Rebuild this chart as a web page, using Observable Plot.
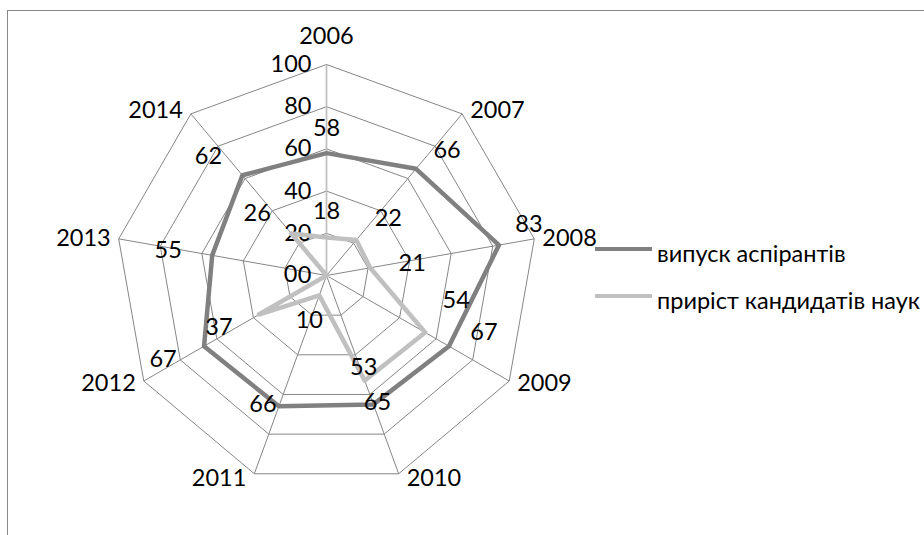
<!DOCTYPE html>
<html>
<head>
<meta charset="utf-8">
<script src="https://cdn.jsdelivr.net/npm/d3@7"></script>
<script src="https://cdn.jsdelivr.net/npm/@observablehq/plot@0.6"></script>
<style>
  html, body { margin: 0; padding: 0; background: #fff; }
  #wrap { position: relative; width: 924px; height: 535px; overflow: hidden; font-family: Lato, "Open Sans", sans-serif; }
  #frame { position: absolute; left: 7px; top: 10px; width: 1000px; height: 1000px; border-left: 1px solid #888; border-top: 1px solid #888; box-sizing: border-box; }
  #chart { position: absolute; left: 0; top: 0; }
  .leg { position: absolute; white-space: nowrap; font-size: 23.5px; color: #000; }
  .leg .sw { position: absolute; left: 0; width: 57px; height: 4px; }
  .leg span.t { position: absolute; left: 62px; line-height: 28px; }
</style>
</head>
<body>
<div id="wrap">
  <div id="frame"></div>
  <div id="chart"></div>
  <div id="legend"></div>
</div>
<script>
// ---- data ----
const categories = ["2006", "2007", "2008", "2009", "2010", "2011", "2012", "2013", "2014"];
const graduates = [58, 66, 83, 67, 65, 66, 67, 55, 62];        // випуск аспірантів
const candidates = [18, 22, 21, 54, 53, 10, 37, 0, 26];        // приріст кандидатів наук
const tickValues = [0, 20, 40, 60, 80, 100];
const seriesNames = ["випуск аспірантів", "приріст кандидатів наук"];
const seriesColors = ["#808080", "#c0c0c0"];

// ---- geometry helpers ----
const FS = 23.5;
const k = 2.11;             // pixels per unit
const cx = 326, cy = 275;   // centre in pixels
const n = categories.length;
const ang = i => (i % n) * 2 * Math.PI / n;
const X = (i, v) => Math.sin(ang(i)) * v;
const Y = (i, v) => -Math.cos(ang(i)) * v;
const maxV = d3.max(tickValues);

// rings
const rings = [];
tickValues.filter(t => t > 0).forEach(t => {
  for (let i = 0; i <= n; i++) rings.push({ring: t, i, v: t});
});
const spokes = categories.map((c, i) => ({i, c}));

// series rows
const seriesData = [graduates, candidates];
const lines = [];
seriesData.forEach((vals, s) => {
  for (let i = 0; i <= n; i++) lines.push({s, i, v: vals[i % n]});
});

// label offsets (pixels) for data labels, per series per category
const labelOffsets = [
  [[0,-25],[31,-18],[30,-21],[35,-14],[4,-2],[-16,-2],[-41,13],[-44,-5],[-34,-19]],
  [[0,-26],[32,-21],[42,-4],[31,-32],[-1,-13],[-10,25],[-40,13],[-36,-1],[-34,-20]]
];
const dataLabels = [];
seriesData.forEach((vals, s) => vals.forEach((v, i) => dataLabels.push({s, i, v, o: labelOffsets[s][i]})));

const catRows = categories.map((c, i) => ({c, i, sn: Math.sin(ang(i))}));

const chart = Plot.plot({
  width: 924,
  height: 535,
  margin: 0,
  x: {domain: [-cx / k, (924 - cx) / k], range: [0, 924], axis: null},
  y: {domain: [-cy / k, (535 - cy) / k], range: [0, 535], axis: null},
  style: {fontFamily: "Lato, 'Open Sans', sans-serif", fontSize: FS + "px", background: "transparent"},
  marks: [
    // ring grid
    Plot.line(rings, {x: d => X(d.i, d.v), y: d => Y(d.i, d.v), z: "ring", stroke: "#868686", strokeWidth: 1}),
    // spokes
    Plot.link(spokes.filter(d => d.i !== 0), {x1: 0, y1: 0, x2: d => X(d.i, maxV), y2: d => Y(d.i, maxV), stroke: "#868686", strokeWidth: 1}),
    Plot.link(spokes.filter(d => d.i === 0), {x1: 0, y1: 0, x2: d => X(d.i, maxV), y2: d => Y(d.i, maxV), stroke: "#bfbfbf", strokeWidth: 1.75}),
    // value axis labels
    Plot.text(tickValues, {x: 0, y: d => -d, text: d => String(d), textAnchor: "end", dx: -15, fill: "#000", fontSize: FS}),
    // series
    Plot.line(lines.filter(d => d.s === 0), {x: d => X(d.i, d.v), y: d => Y(d.i, d.v), stroke: seriesColors[0], strokeWidth: 4.5, strokeLinejoin: "round"}),
    Plot.line(lines.filter(d => d.s === 1), {x: d => X(d.i, d.v), y: d => Y(d.i, d.v), stroke: seriesColors[1], strokeWidth: 4.5, strokeLinejoin: "round"}),
    // data labels
    Plot.text(dataLabels, {x: d => X(d.i, d.v) + d.o[0] / k, y: d => Y(d.i, d.v) + d.o[1] / k, text: d => String(d.v), fill: "#000", fontSize: FS}),
    // category labels
    Plot.text(catRows.filter(d => d.sn > 0.1), {x: d => X(d.i, maxV), y: d => Y(d.i, maxV + 2.4), text: "c", textAnchor: "start", dx: 8, fill: "#000", fontSize: FS}),
    Plot.text(catRows.filter(d => d.sn < -0.1), {x: d => X(d.i, maxV), y: d => Y(d.i, maxV + 2.4), text: "c", textAnchor: "end", dx: -8, fill: "#000", fontSize: FS}),
    Plot.text(catRows.filter(d => Math.abs(d.sn) <= 0.1), {x: d => X(d.i, maxV), y: d => Y(d.i, maxV), text: "c", textAnchor: "middle", dy: -28, fill: "#000", fontSize: FS})
  ]
});
document.getElementById("chart").appendChild(chart);

// legend
const legend = document.getElementById("legend");
const legendTop = [249, 296];
seriesNames.forEach((name, s) => {
  const item = document.createElement("div");
  item.className = "leg";
  item.style.left = "595px";
  item.style.top = (legendTop[s] - 2) + "px";
  const sw = document.createElement("div");
  sw.className = "sw";
  sw.style.background = seriesColors[s];
  sw.style.top = "0px";
  const t = document.createElement("span");
  t.className = "t";
  t.style.top = "-8px";
  t.textContent = name;
  item.appendChild(sw);
  item.appendChild(t);
  legend.appendChild(item);
});
</script>
</body>
</html>
